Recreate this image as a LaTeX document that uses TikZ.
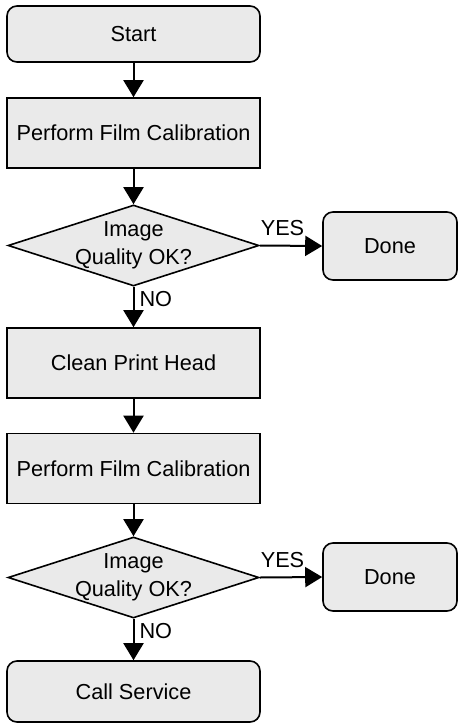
\documentclass[tikz,border=0pt]{standalone}
\usepackage{fontspec}
\setmainfont{Liberation Sans}
\usetikzlibrary{shapes.geometric,arrows.meta}
\definecolor{boxfill}{RGB}{234,234,234}
\begin{document}
\begin{tikzpicture}[x=1pt, y=1pt, font=\fontsize{21.7}{28}\selectfont,
  box/.style={draw, line width=1.6pt, fill=boxfill, minimum width=253pt, minimum height=70pt, inner sep=0pt},
  term/.style={box, rounded corners=10pt},
  decision/.style={diamond, draw, line width=1.6pt, fill=boxfill, inner sep=-6pt, aspect=3.1,
    minimum width=251pt, minimum height=81pt, align=center},
  flow/.style={line width=2pt, -{Triangle[length=17pt, width=20pt]}},
  tag/.style={inner sep=0pt}]
\useasboundingbox (0,0) rectangle (458,-724);
% main column
\node[term, minimum height=56pt] (start) at (133.5,-34) {Start};
\node[box] (cal1) at (133.5,-133) {Perform Film Calibration};
\node[decision] (q1) at (133.5,-245.5) {Image\\Quality OK?};
\node[box] (clean) at (133.5,-363) {Clean Print Head};
\node[box] (cal2) at (133.5,-468.5) {Perform Film Calibration};
\node[decision] (q2) at (133.5,-577.5) {Image\\Quality OK?};
\node[term, minimum height=61pt] (service) at (133.5,-691.5) {Call Service};
% side exits
\node[term, minimum width=134pt, minimum height=68pt] (done1) at (390,-246) {Done};
\node[term, minimum width=134pt, minimum height=68pt] (done2) at (390,-577) {Done};
% connectors
\foreach \a/\b in {start/cal1, cal1/q1, clean/cal2, cal2/q2}
  \draw[flow] (\a) -- (\b);
\foreach \q/\d/\n in {q1/done1/clean, q2/done2/service} {
  \draw[flow] (\q.east) -- (\d.west)
    node[tag, pos=0, anchor=south west, yshift=9pt] {YES};
  \draw[flow] (\q.south) -- (\n.north)
    node[tag, pos=0, anchor=north west, xshift=5pt, yshift=-4pt] {NO};
}
\end{tikzpicture}
\end{document}
